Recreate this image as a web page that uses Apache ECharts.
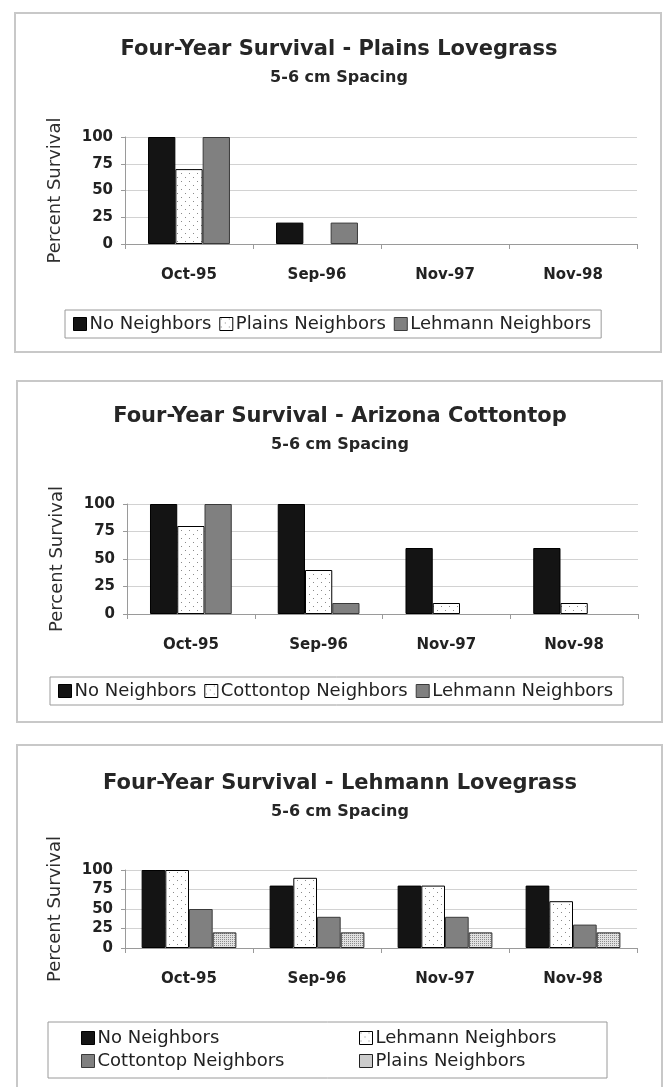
<!DOCTYPE html>
<html>
<head>
<meta charset="utf-8">
<script src="https://cdn.jsdelivr.net/npm/echarts@6/dist/echarts.min.js"></script>
<style>
  html, body { margin: 0; padding: 0; background: #fff; }
  .panel { position: absolute; left: 0; width: 668px; }
</style>
</head>
<body>
<div id="c1" class="panel" style="top:0;height:365px"></div>
<div id="c2" class="panel" style="top:365px;height:370px"></div>
<div id="c3" class="panel" style="top:735px;height:352px"></div>
<script>
// Sampling dates (categories) and axis ticks
const months = ['Oct-95', 'Sep-96', 'Nov-97', 'Nov-98'];
const yMin = 0, yMax = 100, yStep = 25;

// Plains Lovegrass, percent survival
const plainsNoNeighbors = [100, 20, 0, 0];
const plainsPlainsNeighbors = [70, 0, 0, 0];
const plainsLehmannNeighbors = [100, 20, 0, 0];

// Arizona Cottontop, percent survival
const cottonNoNeighbors = [100, 100, 60, 60];
const cottonCottontopNeighbors = [80, 40, 10, 10];
const cottonLehmannNeighbors = [100, 10, 0, 0];

// Lehmann Lovegrass, percent survival
const lehmannNoNeighbors = [100, 80, 80, 80];
const lehmannLehmannNeighbors = [100, 90, 80, 60];
const lehmannCottontopNeighbors = [50, 40, 40, 30];
const lehmannPlainsNeighbors = [20, 20, 20, 20];

const FONT = '"DejaVu Sans", "Liberation Sans", sans-serif';
const INK = '#222';

function dotPattern() {
  const c = document.createElement('canvas');
  c.width = 8; c.height = 8;
  const g = c.getContext('2d');
  g.fillStyle = '#fff'; g.fillRect(0, 0, 8, 8);
  g.fillStyle = '#8a8a8a';
  g.fillRect(1, 1, 1, 1); g.fillRect(5, 5, 1, 1);
  return { image: c, repeat: 'repeat' };
}
function checkPattern() {
  const c = document.createElement('canvas');
  c.width = 4; c.height = 4;
  const g = c.getContext('2d');
  g.fillStyle = '#e2e2e2'; g.fillRect(0, 0, 4, 4);
  g.fillStyle = '#8c8c8c';
  g.fillRect(0, 0, 1, 1); g.fillRect(2, 2, 1, 1);
  g.fillRect(2, 0, 1, 1); g.fillRect(0, 2, 1, 1);
  return { image: c, repeat: 'repeat' };
}

const solidBlack = { color: '#141414', borderColor: '#000', borderWidth: 1 };
const solidGray = { color: '#808080', borderColor: '#3a3a3a', borderWidth: 1 };
const dotted = { color: dotPattern(), borderColor: '#000', borderWidth: 1 };
const checked = { color: checkPattern(), borderColor: '#222', borderWidth: 1 };

function barSeries(name, values, style, gap) {
  return {
    name, type: 'bar',
    data: values.map(v => (v === 0 ? '-' : v)),
    itemStyle: style,
    barGap: '0%', barCategoryGap: gap,
    emphasis: { disabled: true },
    animation: false
  };
}

function legendItems(names, styles) {
  return names.map((n, i) => ({
    name: n,
    icon: 'rect',
    itemStyle: Object.assign({}, styles[i], { borderWidth: 1 })
  }));
}

function panelOption(cfg) {
  const graphic = [
    { type: 'rect', z: -10, silent: true,
      shape: cfg.frame,
      style: { fill: '#fff', stroke: '#c8c8c8', lineWidth: 2 } },
    { type: 'text', silent: true,
      style: { x: cfg.titleX, y: cfg.titleY, text: cfg.title, align: 'center', verticalAlign: 'middle',
               fontFamily: FONT, fontSize: 21, fontWeight: 'bold', fill: '#262626' } },
    { type: 'text', silent: true,
      style: { x: cfg.titleX, y: cfg.subY, text: '5-6 cm Spacing', align: 'center', verticalAlign: 'middle',
               fontFamily: FONT, fontSize: 16, fontWeight: 'bold', fill: '#262626' } }
  ].concat(cfg.extraGraphic || []);

  return {
    animation: false,
    backgroundColor: 'transparent',
    graphic,
    legend: cfg.legend,
    grid: Object.assign({ outerBoundsMode: 'none', containLabel: false }, cfg.grid),
    xAxis: {
      type: 'category', data: months,
      axisLine: { lineStyle: { color: '#9a9a9a', width: 1 } },
      axisTick: { show: true, length: 5, lineStyle: { color: '#9a9a9a' } },
      axisLabel: { margin: 24, fontFamily: FONT, fontSize: 15, fontWeight: 'bold', color: INK }
    },
    yAxis: {
      type: 'value', min: yMin, max: yMax, interval: yStep,
      name: 'Percent Survival', nameLocation: 'middle', nameGap: 61,
      nameTextStyle: { fontFamily: FONT, fontSize: 18, color: '#2e2e2e' },
      axisLine: { show: true, lineStyle: { color: '#9a9a9a' } },
      axisTick: { show: true, length: 4, lineStyle: { color: '#9a9a9a' } },
      axisLabel: { margin: 12, fontFamily: FONT, fontSize: 15, fontWeight: 'bold', color: INK },
      splitLine: { show: true, lineStyle: { color: '#d2d2d2', width: 1 } }
    },
    series: cfg.series
  };
}

const legendBase = {
  orient: 'horizontal', itemWidth: 13, itemHeight: 13, itemGap: 8,
  selectedMode: false,
  textStyle: { fontFamily: FONT, fontSize: 18, color: INK, padding: [0, 0, 0, -2] }
};

// Plains Lovegrass
(function () {
  const names = ['No Neighbors', 'Plains Neighbors', 'Lehmann Neighbors'];
  const styles = [solidBlack, dotted, solidGray];
  const gap = '36%';
  const chart = echarts.init(document.getElementById('c1'), null, { renderer: 'canvas' });
  chart.setOption(panelOption({
    frame: { x: 15, y: 13, width: 646, height: 339 },
    titleX: 339, titleY: 50, title: 'Four-Year Survival - Plains Lovegrass', subY: 78,
    grid: { left: 125, right: 31, top: 137, height: 107 },
    legend: Object.assign({}, legendBase, {
      left: 65, top: 310, padding: [5, 10, 5, 8],
      borderColor: '#9a9a9a', borderWidth: 1, backgroundColor: '#fff',
      data: legendItems(names, styles)
    }),
    series: [
      barSeries(names[0], plainsNoNeighbors, styles[0], gap),
      barSeries(names[1], plainsPlainsNeighbors, styles[1], gap),
      barSeries(names[2], plainsLehmannNeighbors, styles[2], gap)
    ]
  }));
})();

// Arizona Cottontop
(function () {
  const names = ['No Neighbors', 'Cottontop Neighbors', 'Lehmann Neighbors'];
  const styles = [solidBlack, dotted, solidGray];
  const gap = '36%';
  const chart = echarts.init(document.getElementById('c2'), null, { renderer: 'canvas' });
  chart.setOption(panelOption({
    frame: { x: 17, y: 16, width: 645, height: 341 },
    titleX: 340, titleY: 52, title: 'Four-Year Survival - Arizona Cottontop', subY: 80,
    grid: { left: 127, right: 30, top: 139, height: 110 },
    legend: Object.assign({}, legendBase, {
      left: 50, top: 312, padding: [5, 10, 5, 8],
      borderColor: '#9a9a9a', borderWidth: 1, backgroundColor: '#fff',
      data: legendItems(names, styles)
    }),
    series: [
      barSeries(names[0], cottonNoNeighbors, styles[0], gap),
      barSeries(names[1], cottonCottontopNeighbors, styles[1], gap),
      barSeries(names[2], cottonLehmannNeighbors, styles[2], gap)
    ]
  }));
})();

// Lehmann Lovegrass
(function () {
  const names = ['No Neighbors', 'Lehmann Neighbors', 'Cottontop Neighbors', 'Plains Neighbors'];
  const styles = [solidBlack, dotted, solidGray, checked];
  const gap = '26%';
  const items = legendItems(names, styles);
  const chart = echarts.init(document.getElementById('c3'), null, { renderer: 'canvas' });
  const col = (left, data) => Object.assign({}, legendBase, {
    orient: 'vertical', left, top: 294, itemGap: 5, padding: 0, data
  });
  chart.setOption(panelOption({
    frame: { x: 17, y: 10, width: 645, height: 360 },
    titleX: 340, titleY: 49, title: 'Four-Year Survival - Lehmann Lovegrass', subY: 77,
    grid: { left: 125, right: 31, top: 135, height: 78 },
    legend: [col(81, [items[0], items[2]]), col(359, [items[1], items[3]])],
    extraGraphic: [
      { type: 'rect', z: -5, silent: true,
        shape: { x: 48, y: 287, width: 559, height: 56 },
        style: { fill: '#fff', stroke: '#9a9a9a', lineWidth: 1 } }
    ],
    series: [
      barSeries(names[0], lehmannNoNeighbors, styles[0], gap),
      barSeries(names[1], lehmannLehmannNeighbors, styles[1], gap),
      barSeries(names[2], lehmannCottontopNeighbors, styles[2], gap),
      barSeries(names[3], lehmannPlainsNeighbors, styles[3], gap)
    ]
  }));
})();
</script>
</body>
</html>
